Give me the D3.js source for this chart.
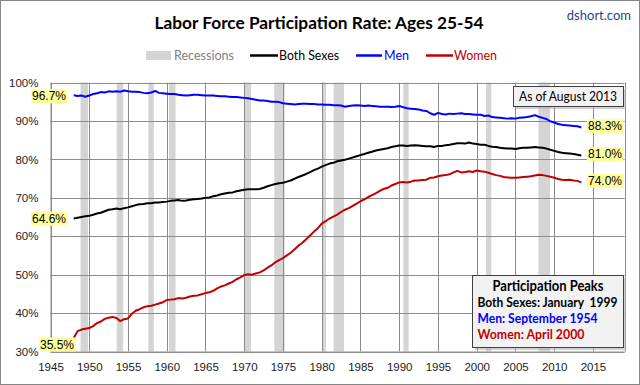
<!DOCTYPE html>
<html><head><meta charset="utf-8">
<script src="https://cdn.jsdelivr.net/npm/d3@7/dist/d3.min.js"></script>
<style>body{margin:0;background:#fff}svg{display:block}</style>
</head><body><svg id="c" width="640" height="385"></svg>
<script>
// ---- data (half-year observations starting Jan 1948) ----
const startYear = 1948;
const stepYears = 0.5;
const men = [
  96.7,96.5, 96.6,96.3, 96.6,97.0, 97.2,97.5, 97.4,97.7, 97.6,97.7, 97.6,97.9, 97.7,97.6,
  97.6,97.5, 97.3,97.2, 97.4,97.8, 97.3,97.2, 97.1,97.0, 97.0,96.8, 96.7,96.6, 96.7,96.8,
  96.8,96.7, 96.6,96.6, 96.6,96.5, 96.4,96.4, 96.3,96.2, 96.2,96.1, 96.0,95.9, 95.7,95.5,
  95.3,95.3, 95.2,95.0, 95.0,94.9, 94.6,94.5, 94.4,94.3, 94.4,94.5, 94.5,94.4, 94.4,94.3,
  94.3,94.2, 94.2,94.1, 94.1,94.0, 93.7,93.9, 94.0,94.1, 94.0,93.9, 94.0,93.9, 93.8,93.7,
  93.7,93.7, 93.6,93.7, 93.9,93.6, 93.3,93.2, 93.1,93.0, 92.7,92.6, 92.0,91.6, 92.1,91.8,
  91.7,91.9, 91.8,91.9, 92.0,91.8, 91.8,91.7, 91.6,91.6, 91.3,91.4, 91.0,90.9, 90.8,90.7,
  90.6,90.7, 90.6,90.8, 90.9,91.0, 91.2,91.5, 91.1,90.8, 90.5,89.9, 89.6,89.2, 89.0,88.9,
  88.8,88.7, 88.6,88.3
];
const bothSexes = [
  64.6,64.8, 65.0,65.2, 65.3,65.6, 65.9,66.1, 66.5,66.9, 67.0,67.2, 67.0,67.3, 67.5,67.8,
  68.1,68.3, 68.4,68.6, 68.6,68.8, 68.8,68.9, 69.0,69.2, 69.3,69.4, 69.2,69.3, 69.5,69.6,
  69.7,69.8, 70.0,70.1, 70.4,70.6, 70.9,71.1, 71.3,71.4, 71.7,71.9, 72.1,72.2, 72.2,72.2,
  72.3,72.6, 73.0,73.3, 73.6,73.8, 73.9,74.2, 74.5,75.0, 75.4,75.8, 76.2,76.7, 77.2,77.6,
  78.1,78.5, 78.9,79.1, 79.5,79.7, 79.9,80.2, 80.5,80.8, 81.1,81.4, 81.7,82.0, 82.3,82.5,
  82.7,82.9, 83.2,83.4, 83.6,83.6, 83.5,83.6, 83.7,83.6, 83.5,83.4, 83.4,83.2, 83.5,83.5,
  83.7,83.8, 84.0,84.2, 84.2,84.1, 84.4,84.1, 84.0,83.8, 83.8,83.5, 83.3,83.2, 83.0,82.9,
  82.8,82.8, 82.7,82.9, 83.0,83.0, 83.1,83.2, 83.1,83.0, 82.8,82.5, 82.2,81.9, 81.7,81.6,
  81.5,81.4, 81.2,81.0
];
const women = [
  33.5,35.3, 35.7,35.9, 36.1,36.6, 37.4,37.8, 38.5,38.8, 39.0,38.7, 37.9,38.4, 38.6,39.8,
  40.6,41.0, 41.5,41.8, 41.9,42.2, 42.5,42.8, 43.4,43.5, 43.6,43.9, 43.8,44.0, 44.3,44.5,
  44.6,44.9, 45.2,45.4, 45.8,46.4, 46.9,47.2, 47.7,48.1, 48.8,49.3, 49.9,50.1, 50.0,50.3,
  50.6,51.1, 51.8,52.4, 53.2,53.8, 54.3,55.0, 55.7,56.6, 57.5,58.3, 59.2,60.2, 61.2,62.1,
  63.3,63.9, 64.6,65.1, 65.6,66.3, 66.9,67.3, 67.9,68.5, 69.1,69.6, 70.2,70.7, 71.2,71.8,
  72.3,72.6, 73.2,73.6, 74.0,74.1, 74.0,74.2, 74.5,74.5, 74.6,74.7, 75.2,75.3, 75.6,75.8,
  75.9,76.1, 76.6,77.0, 76.6,76.7, 76.9,76.7, 77.1,76.9, 76.8,76.5, 76.2,75.9, 75.7,75.4,
  75.3,75.2, 75.2,75.3, 75.4,75.5, 75.6,75.8, 76.0,75.9, 75.7,75.5, 75.2,74.9, 74.7,74.6,
  74.7,74.5, 74.4,74.0
];
const recessions = [
  [1948.88,1949.83],[1953.54,1954.38],[1957.63,1958.33],[1960.30,1961.13],
  [1969.96,1970.88],[1973.88,1975.21],[1980.04,1980.54],[1981.54,1982.88],
  [1990.54,1991.21],[2001.21,2001.88],[2007.96,2009.46]
];
const xTickYears = [1945,1950,1955,1960,1965,1970,1975,1980,1985,1990,1995,2000,2005,2010,2015];
const yTickValues = [30,40,50,60,70,80,90,100];
const startLabels = ["96.7%","64.6%","35.5%"];
const endLabels = ["88.3%","81.0%","74.0%"];
const seriesNames = ["Men","Both Sexes","Women"];
const seriesColors = ["#0000FF","#000000","#C00000"];
const peakLines = ["Both Sexes: January  1999","Men: September 1954","Women: April 2000"];

// ---- drawing ----
const svg = d3.select("#c");
const calib = "Lato, 'Open Sans', sans-serif";
const tickFont = "'Liberation Sans', Arial, sans-serif";

const x = d3.scaleLinear().domain([1945, 2019.07]).range([50.5, 624.5]);
const y = d3.scaleLinear().domain([30, 100]).range([351.5, 82.5]);

// outer border
svg.append("rect").attr("x",0.5).attr("y",0.5).attr("width",639).attr("height",384)
  .attr("fill","#fff").attr("stroke","#868686");

// recession bands
svg.append("g").selectAll("rect").data(recessions).join("rect")
  .attr("x", d => x(d[0])).attr("width", d => x(d[1]) - x(d[0]))
  .attr("y", y(100)).attr("height", y(30) - y(100))
  .attr("fill", "#D4D4D4");

// gridlines
const gridColor = "#8C8C8C";
svg.append("g").selectAll("line").data(yTickValues).join("line")
  .attr("x1", x.range()[0]).attr("x2", x.range()[1])
  .attr("y1", d => Math.round(y(d)) + 0.5).attr("y2", d => Math.round(y(d)) + 0.5)
  .attr("stroke", gridColor).attr("stroke-width", 1);
svg.append("g").selectAll("line").data(xTickYears.concat([x.domain()[1]])).join("line")
  .attr("x1", d => Math.round(x(d)) + 0.5).attr("x2", d => Math.round(x(d)) + 0.5)
  .attr("y1", y(100)).attr("y2", y(30))
  .attr("stroke", gridColor).attr("stroke-width", 1);

// axes (labels only; Excel style)
const yAxis = d3.axisLeft(y).tickValues(yTickValues).tickFormat(d => d + "%").tickSize(0).tickPadding(12);
const gy = svg.append("g").attr("transform", `translate(${x.range()[0]},0)`).call(yAxis);
gy.select(".domain").attr("stroke", gridColor);
gy.selectAll("text").attr("font-family", tickFont).attr("font-size", 11.5).attr("fill", "#222");

const xAxis = d3.axisBottom(x).tickValues(xTickYears).tickFormat(d3.format("d")).tickSize(0).tickPadding(11);
const gx = svg.append("g").attr("transform", `translate(0,${y(30)})`).call(xAxis);
gx.select(".domain").attr("stroke", gridColor);
gx.selectAll("text").attr("font-family", tickFont).attr("font-size", 11.5).attr("fill", "#222");

// lines
const seriesData = [men, bothSexes, women];
const line = d3.line().x((d, i) => x(startYear + i * stepYears)).y(d => y(d));
svg.append("g").selectAll("path").data(seriesData).join("path")
  .attr("d", line).attr("fill", "none")
  .attr("stroke", (d, i) => seriesColors[i]).attr("stroke-width", 2)
  .attr("stroke-linejoin", "round");

// start / end value labels
function valueLabel(txt, cx, cy, anchor) {
  const g = svg.append("g");
  const t = g.append("text").attr("x", cx).attr("y", cy).attr("dy", "0.35em")
    .attr("text-anchor", anchor).attr("font-family", tickFont).attr("font-size", 12)
    .attr("fill", "#000").text(txt);
  const b = t.node().getBBox();
  g.insert("rect", "text").attr("x", b.x - 1).attr("y", cy - 7).attr("width", b.width + 2).attr("height", 14)
    .attr("fill", "#FFFF99");
}
valueLabel(startLabels[0], 66, y(men[0]) + 1, "end");
valueLabel(startLabels[1], 66, y(bothSexes[0]), "end");
valueLabel(startLabels[2], 40, y(30) - 7, "start");
const endVals = [men[men.length-1], bothSexes[bothSexes.length-1], women[women.length-1]];
endLabels.forEach((s, i) => valueLabel(s, 588, y(endVals[i]) - 1.5, "start"));

// title & source
svg.append("text").attr("x", 319).attr("y", 28.5).attr("text-anchor", "middle")
  .attr("font-family", calib).attr("font-weight", "bold").attr("font-size", 17)
  .attr("textLength", 329).attr("lengthAdjust", "spacingAndGlyphs")
  .text("Labor Force Participation Rate: Ages 25-54");
svg.append("text").attr("x", 631).attr("y", 20).attr("text-anchor", "end")
  .attr("font-family", calib).attr("font-size", 13).attr("fill", "#1F497D")
  .text("dshort.com");

// legend
const lg = svg.append("g").attr("font-family", calib).attr("font-size", 13);
lg.append("rect").attr("x", 146).attr("y", 51).attr("width", 25).attr("height", 9).attr("fill", "#D4D4D4");
lg.append("text").attr("x", 174).attr("y", 55.5).attr("dy", "0.35em").attr("fill", "#808080")
  .attr("textLength", 60).attr("lengthAdjust", "spacingAndGlyphs").text("Recessions");
const legendItems = [
  {name: seriesNames[1], color: seriesColors[1], x0: 250, x1: 278, tx: 279, tw: 60},
  {name: seriesNames[0], color: seriesColors[0], x0: 356, x1: 382, tx: 384, tw: 25},
  {name: seriesNames[2], color: seriesColors[2], x0: 426, x1: 453, tx: 454, tw: 43}
];
legendItems.forEach(d => {
  lg.append("line").attr("x1", d.x0).attr("x2", d.x1).attr("y1", 55.5).attr("y2", 55.5)
    .attr("stroke", d.color).attr("stroke-width", 2.5);
  lg.append("text").attr("x", d.tx).attr("y", 55.5).attr("dy", "0.35em").attr("fill", d.color)
    .attr("textLength", d.tw).attr("lengthAdjust", "spacingAndGlyphs").text(d.name);
});

// boxes with shadow
function box(x0, y0, w, h) {
  svg.append("rect").attr("x", x0 + 3).attr("y", y0 + 3).attr("width", w).attr("height", h).attr("fill", "#B0B0B0").attr("opacity", 0.6);
  svg.append("rect").attr("x", x0 + 0.5).attr("y", y0 + 0.5).attr("width", w).attr("height", h)
    .attr("fill", "#F2F2F2").attr("stroke", "#404040").attr("stroke-width", 1);
}
box(513, 86, 110, 20);
svg.append("text").attr("x", 568).attr("y", 96.5).attr("dy", "0.35em").attr("text-anchor", "middle")
  .attr("font-family", calib).attr("font-size", 13.5).attr("fill", "#000")
  .attr("textLength", 98).attr("lengthAdjust", "spacingAndGlyphs").text("As of August 2013");

box(472, 275, 151, 72);
svg.append("text").attr("x", 548).attr("y", 285.5).attr("dy", "0.35em").attr("text-anchor", "middle")
  .attr("font-family", calib).attr("font-weight", "bold").attr("font-size", 14.5).attr("fill", "#000")
  .attr("textLength", 111).attr("lengthAdjust", "spacingAndGlyphs").text("Participation Peaks");
const peakColors = [seriesColors[1], seriesColors[0], seriesColors[2]];
const peakY = [302.5, 319, 334.5];
const peakW = [140, 120, 107];
peakLines.forEach((s, i) => {
  svg.append("text").attr("x", 477.5).attr("y", peakY[i]).attr("dy", "0.35em")
    .attr("font-family", calib).attr("font-weight", "bold").attr("font-size", 12.5)
    .attr("fill", peakColors[i]).attr("xml:space", "preserve").style("white-space", "pre")
    .attr("textLength", peakW[i]).attr("lengthAdjust", "spacingAndGlyphs").text(s);
});
</script></body></html>
